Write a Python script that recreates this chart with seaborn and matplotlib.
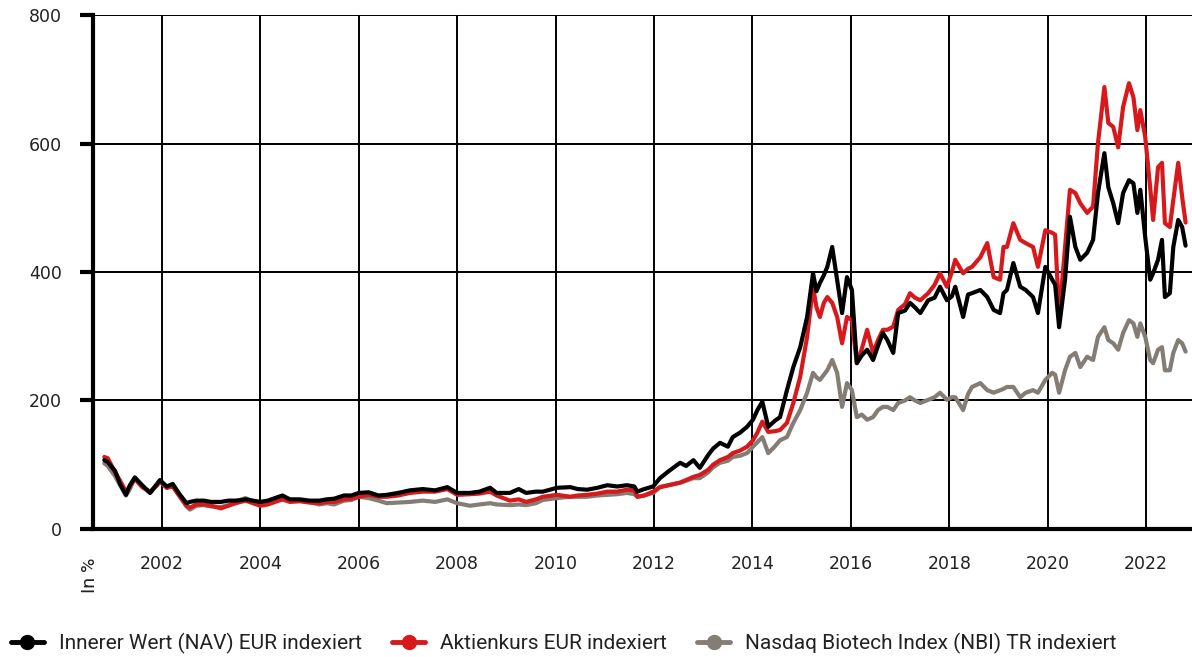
import numpy as np
import pandas as pd
import seaborn as sns
import matplotlib
matplotlib.use("Agg")
import matplotlib.pyplot as plt
from matplotlib.lines import Line2D

# ---- data ----
years = [
    2000.83, 2000.90, 2001.05, 2001.15, 2001.27, 2001.35, 2001.45, 2001.60, 2001.76, 2001.90,
    2001.96, 2002.10, 2002.22, 2002.35, 2002.50, 2002.57, 2002.70, 2002.85, 2003.00, 2003.20,
    2003.35, 2003.50, 2003.70, 2003.85, 2004.00, 2004.15, 2004.30, 2004.45, 2004.60, 2004.80,
    2005.00, 2005.20, 2005.35, 2005.50, 2005.70, 2005.85, 2006.00, 2006.20, 2006.40, 2006.57,
    2006.80, 2007.04, 2007.30, 2007.55, 2007.80, 2008.00, 2008.26, 2008.45, 2008.67, 2008.80,
    2009.07, 2009.25, 2009.40, 2009.60, 2009.74, 2010.03, 2010.30, 2010.45, 2010.64, 2010.85,
    2011.05, 2011.25, 2011.45, 2011.60, 2011.66, 2011.80, 2011.98, 2012.12, 2012.30, 2012.53,
    2012.65, 2012.80, 2012.93, 2013.10, 2013.20, 2013.34, 2013.50, 2013.60, 2013.75, 2013.89,
    2014.01, 2014.10, 2014.20, 2014.32, 2014.45, 2014.56, 2014.70, 2014.83, 2014.97, 2015.11,
    2015.23, 2015.30, 2015.37, 2015.45, 2015.52, 2015.62, 2015.72, 2015.82, 2015.92, 2016.02,
    2016.12, 2016.22, 2016.33, 2016.45, 2016.55, 2016.65, 2016.74, 2016.86, 2016.96, 2017.10,
    2017.20, 2017.30, 2017.41, 2017.57, 2017.70, 2017.81, 2017.95, 2018.05, 2018.12, 2018.28,
    2018.38, 2018.46, 2018.63, 2018.77, 2018.90, 2019.03, 2019.10, 2019.17, 2019.30, 2019.44,
    2019.55, 2019.70, 2019.80, 2019.95, 2020.09, 2020.15, 2020.23, 2020.35, 2020.45, 2020.56,
    2020.66, 2020.80, 2020.92, 2021.02, 2021.15, 2021.23, 2021.33, 2021.43, 2021.53, 2021.65,
    2021.74, 2021.82, 2021.88, 2021.98, 2022.08, 2022.14, 2022.24, 2022.32, 2022.38, 2022.48,
    2022.55, 2022.65, 2022.73, 2022.80,
]
nav = [
    107, 104, 90, 70, 53, 68, 80, 68, 56, 70,
    76, 66, 70, 55, 40, 42, 44, 44, 42, 42,
    44, 44, 46, 44, 42, 44, 48, 52, 46, 46,
    44, 44, 46, 47, 52, 52, 56, 57, 52, 53,
    56, 60, 62, 60, 65, 56, 56, 58, 64, 56,
    56, 62, 56, 58, 58, 64, 65, 62, 61, 64,
    68, 66, 68, 66, 58, 62, 66, 79, 90, 103,
    98, 107, 95, 115, 125, 134, 128, 143, 150, 159,
    170, 185, 198, 159, 168, 174, 216, 252, 283, 330,
    398, 370, 383, 395, 408, 439, 388, 336, 392, 372,
    258, 270, 279, 263, 285, 305, 294, 274, 336, 340,
    352, 345, 336, 356, 360, 377, 356, 362, 377, 330,
    365, 367, 372, 361, 341, 336, 367, 372, 414, 377,
    372, 361, 336, 408, 388, 380, 314, 388, 486, 439,
    419, 430, 450, 523, 585, 532, 507, 476, 523, 543,
    538, 492, 528, 454, 388, 398, 419, 450, 361, 367,
    439, 481, 470, 441,
]
aktie = [
    112, 110, 88, 75, 58, 66, 78, 65, 58, 68,
    74, 64, 66, 52, 36, 33, 38, 38, 36, 32,
    36, 40, 44, 40, 36, 38, 42, 46, 42, 43,
    41, 40, 42, 42, 46, 47, 50, 53, 50, 50,
    52, 56, 58, 58, 62, 53, 54, 55, 58, 52,
    44, 46, 42, 46, 50, 53, 50, 52, 53, 55,
    58, 58, 61, 60, 50, 52, 58, 65, 68, 72,
    76, 81, 84, 92, 100, 107, 112, 118, 122, 128,
    138, 150, 167, 151, 152, 154, 165, 196, 237, 299,
    377, 345, 330, 352, 361, 352, 330, 289, 330, 325,
    258, 280, 310, 274, 294, 310, 310, 315, 341, 350,
    367, 360, 356, 367, 380, 398, 377, 400, 419, 398,
    405, 408, 423, 445, 392, 388, 439, 439, 476, 450,
    445, 439, 408, 465, 461, 458, 330, 439, 528, 523,
    507, 492, 502, 601, 688, 632, 626, 594, 657, 694,
    672, 621, 652, 610, 532, 481, 563, 570, 476, 470,
    512, 570, 517, 477,
]
nbi = [
    102, 98, 82, 68, 52, 62, 80, 66, 56, 68,
    74, 64, 67, 52, 35, 30, 36, 37, 35, 34,
    37, 42, 48, 42, 38, 40, 44, 46, 44, 44,
    42, 38, 40, 38, 44, 45, 50, 48, 44, 40,
    41, 42, 44, 42, 46, 40, 36, 38, 40, 38,
    37, 38, 37, 40, 45, 48, 50, 50, 50, 52,
    53, 54, 56, 54, 50, 52, 56, 65, 68, 72,
    75, 79, 79, 88, 96, 103, 106, 112, 114, 118,
    128, 135, 143, 118, 128, 138, 143, 165, 185, 212,
    243, 236, 232, 240, 247, 263, 243, 190, 227, 216,
    174, 178, 170, 174, 185, 190, 190, 185, 196, 200,
    205, 200, 196, 201, 205, 212, 201, 205, 205, 185,
    210, 221, 227, 216, 212, 216, 218, 221, 221, 205,
    212, 216, 212, 232, 243, 240, 212, 247, 268, 274,
    252, 268, 263, 299, 314, 294, 289, 279, 305, 325,
    320, 299, 320, 299, 263, 258, 279, 283, 247, 247,
    274, 294, 289, 276,
]

series_names = [
    "Innerer Wert (NAV) EUR indexiert",
    "Aktienkurs EUR indexiert",
    "Nasdaq Biotech Index (NBI) TR indexiert",
]
colors = ["#000000", "#d7191c", "#837d76"]
y_ticks = [0, 200, 400, 600, 800]
x_ticks = [2002, 2004, 2006, 2008, 2010, 2012, 2014, 2016, 2018, 2020, 2022]
y_label = "In %"

df = pd.concat([
    pd.DataFrame({"Jahr": years, "Wert": vals, "Serie": name})
    for name, vals in zip(series_names, [nav, aktie, nbi])
])

# ---- figure ----
sns.set_theme(style="white")
plt.rcParams["font.family"] = ["Roboto", "DejaVu Sans"]

fig = plt.figure(figsize=(11.92, 6.57), dpi=100)
ax = fig.add_axes([0.078, 0.195, 0.922, 0.782])

order = [2, 1, 0]
for i in order:
    sub = df[df["Serie"] == series_names[i]]
    sns.lineplot(data=sub, x="Jahr", y="Wert", color=colors[i], linewidth=3.0,
                 estimator=None, sort=False, ax=ax, legend=False, zorder=3 + (2 - i))

ax.set_xlim(2000.6, 2022.93)
ax.set_ylim(0, 800)
ax.set_xticks(x_ticks)
ax.set_yticks(y_ticks)
ax.set_xticklabels([str(t) for t in x_ticks])
ax.grid(True, color="black", linewidth=1.4, zorder=1)
ax.set_axisbelow(True)
ax.set_xlabel("")
ax.set_ylabel("")

for s in ["top", "right"]:
    ax.spines[s].set_visible(False)
for s in ["left", "bottom"]:
    ax.spines[s].set_linewidth(3)
    ax.spines[s].set_color("black")
    ax.spines[s].set_zorder(6)

tick_font = {"family": ["DejaVu Sans"], "size": 12.5}
ax.tick_params(axis="y", which="major", length=9.5, width=3, color="black",
               pad=13, labelcolor="#222222", left=True)
ax.tick_params(axis="x", which="major", length=0, pad=19,
               labelcolor="#222222", bottom=True)
for lab in ax.get_xticklabels() + ax.get_yticklabels():
    lab.set_fontfamily(["DejaVu Sans"])
    lab.set_fontsize(12.5)

fig.text(0.0755, 0.125, y_label, rotation=90, fontsize=14, color="#222222",
         ha="center", va="center")

handles = [Line2D([0], [0], color=c, linewidth=3.5, marker="o", markersize=10)
           for c in colors]
leg = fig.legend(handles, series_names, loc="center left", ncol=3, frameon=False,
                 bbox_to_anchor=(0.002, 0.021), fontsize=15, handlelength=1.6,
                 handletextpad=0.7, columnspacing=1.45, borderaxespad=0)
for t in leg.get_texts():
    t.set_color("#222222")

fig.savefig("out.png", dpi=100)
